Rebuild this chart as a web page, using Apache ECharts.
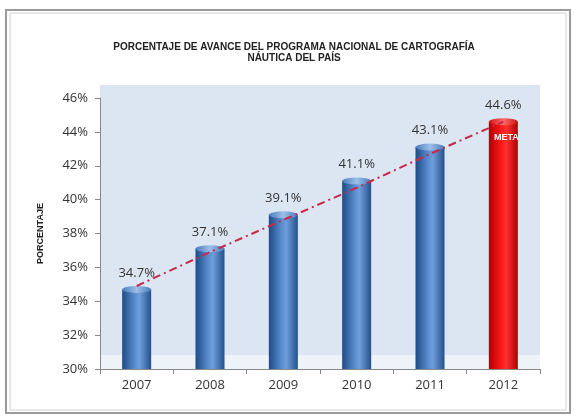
<!DOCTYPE html>
<html><head><meta charset="utf-8">
<script src="https://cdn.jsdelivr.net/npm/echarts@6/dist/echarts.min.js"></script>
<style>html,body{margin:0;padding:0;background:#fff}#c{width:576px;height:419px}</style>
</head><body><div id="c"></div>
<script>
const categories = ['2007','2008','2009','2010','2011','2012'];
const values = [34.7, 37.1, 39.1, 41.1, 43.1, 44.6];
const trend = [34.9, 36.9, 38.8, 40.7, 42.7, 44.6];
const yTicks = [30, 32, 34, 36, 38, 40, 42, 44, 46];
const titleText = 'PORCENTAJE DE AVANCE DEL PROGRAMA NACIONAL DE CARTOGRAFÍA\nNÁUTICA DEL PAÍS';
const metaLabel = 'META';

const chart = echarts.init(document.getElementById('c'));
const blueGrad = new echarts.graphic.LinearGradient(0,0,1,0,[
  {offset:0,color:'#1f4a85'},{offset:0.45,color:'#5b8ed0'},{offset:0.6,color:'#6f9edb'},{offset:1,color:'#23508c'}]);
const redGrad = new echarts.graphic.LinearGradient(0,0,1,0,[
  {offset:0,color:'#b00000'},{offset:0.45,color:'#ff1a1a'},{offset:0.6,color:'#ff3030'},{offset:1,color:'#b00000'}]);
const capBlue = new echarts.graphic.LinearGradient(0,0,1,0,[
  {offset:0,color:'#4a7cbc'},{offset:0.5,color:'#9dbfe8'},{offset:1,color:'#4a7cbc'}]);
const capRed = new echarts.graphic.LinearGradient(0,0,1,0,[
  {offset:0,color:'#d01010'},{offset:0.5,color:'#ff6a6a'},{offset:1,color:'#d01010'}]);
const last = values.length - 1;

chart.setOption({
  animation:false,
  graphic:[
    {type:'rect', shape:{x:6,y:10,width:564,height:403}, style:{fill:'#fff',stroke:'#9a9a9a',lineWidth:2}, z:-10},
    {type:'rect', shape:{x:10,y:13,width:556,height:397}, style:{fill:'none',stroke:'#d0d0d0',lineWidth:1}, z:-10},
    {type:'rect', shape:{x:100,y:85,width:440,height:270}, style:{fill:'#dce6f2'}, z:-5},
    {type:'rect', shape:{x:100,y:355,width:440,height:14}, style:{fill:'#eef3f9'}, z:-5}
  ],
  title:{text:titleText, left:289, top:37, textAlign:'center',
    textStyle:{fontFamily:'Liberation Sans Narrow, Liberation Sans, sans-serif', fontSize:10, fontWeight:'bold', color:'#222', lineHeight:11}},
  grid:{left:100, right:36, top:98, bottom:50},
  xAxis:{type:'category', data:categories,
    axisLine:{lineStyle:{color:'#888'}},
    axisTick:{show:true, alignWithLabel:false, lineStyle:{color:'#888'}},
    axisLabel:{fontFamily:'Open Sans, sans-serif', fontSize:13, color:'#333', margin:10}},
  yAxis:{type:'value', min:30, max:46, interval:2,
    name:'PORCENTAJE', nameLocation:'middle', nameGap:55, nameRotate:90,
    nameTextStyle:{fontFamily:'Liberation Sans Narrow, Liberation Sans, sans-serif', fontSize:9, fontWeight:'bold', color:'#222'},
    axisLine:{show:true, lineStyle:{color:'#888'}},
    axisTick:{show:true, lineStyle:{color:'#888'}},
    splitLine:{show:false},
    axisLabel:{fontFamily:'Open Sans, sans-serif', fontSize:13, color:'#333', margin:12,
      formatter:v => yTicks.includes(v) ? v + '%' : ''}},
  series:[
    {type:'pictorialBar', symbol:'circle', symbolSize:[42,8], symbolPosition:'start',
      symbolOffset:[0,'-50%'], z:1,
      itemStyle:{color:'rgba(100,100,100,0.7)'},
      data:values, silent:true},
    {type:'bar', data:values.map((v,i)=>({value:v, itemStyle:{color: i===last ? redGrad : blueGrad}})),
      barWidth:29, z:2,
      label:{show:true, position:'top', distance:10, formatter:p=>p.value.toFixed(1)+'%',
        fontFamily:'Open Sans, sans-serif', fontSize:13, color:'#333'}},
    {type:'pictorialBar', symbol:'circle', symbolSize:[29,7], symbolPosition:'end',
      symbolOffset:[0,'-50%'], z:3,
      data:values.map((v,i)=>({value:v, itemStyle:{color: i===last ? capRed : capBlue}})), silent:true},
    {type:'line', data:trend, symbol:'none', z:4,
      lineStyle:{color:'#c8284a', width:2, type:[8,4,2,4]},
      markPoint:{symbol:'rect', symbolSize:1, itemStyle:{color:'transparent'},
        label:{show:true, formatter:metaLabel, color:'#fff', fontWeight:'bold', fontSize:9,
          fontFamily:'Liberation Sans Narrow, Liberation Sans, sans-serif', offset:[3,16]},
        data:[{coord:[categories[last], values[last]]}]}}
  ]
});
</script></body></html>
